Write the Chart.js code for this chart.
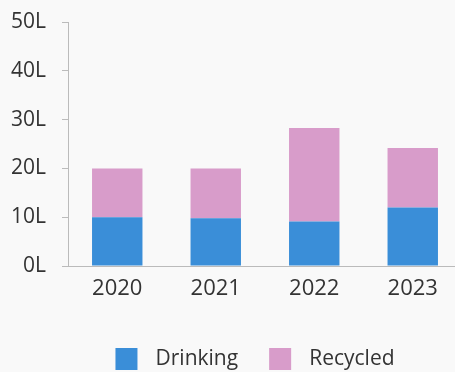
<!DOCTYPE html>
<html>
<head>
<meta charset="utf-8">
<script src="https://cdn.jsdelivr.net/npm/chart.js@4.4.1/dist/chart.umd.min.js"></script>
<style>
  html, body { margin: 0; padding: 0; background: #f9f9f9; overflow: hidden; }
  #wrap { width: 464px; height: 380px; }
</style>
</head>
<body>
<div id="wrap"><canvas id="chart"></canvas></div>
<script>
// data (litres)
const years = ["2020", "2021", "2022", "2023"];
const drinking = [10, 9.8, 9.1, 12];
const recycled = [10, 10.2, 19.2, 12.2];
const yTicks = [0, 10, 20, 30, 40, 50];

const fontFamily = "'Open Sans', sans-serif";

// nudge the legend a bit to the left, like the original
const legendShift = {
  id: "legendShift",
  afterLayout(chart) {
    chart.legend.left -= 10;
    chart.legend.right -= 10;
  },
};

const ctx = document.getElementById("chart").getContext("2d");
new Chart(ctx, {
  type: "bar",
  data: {
    labels: years,
    datasets: [
      {
        label: " \u200ADrinking",
        data: drinking,
        backgroundColor: "#3a8ed8",
        barPercentage: 0.64,
        categoryPercentage: 0.8,
      },
      {
        label: " \u200ARecycled",
        data: recycled,
        backgroundColor: "#d89cca",
        barPercentage: 0.64,
        categoryPercentage: 0.8,
      },
    ],
  },
  options: {
    responsive: true,
    maintainAspectRatio: false,
    animation: false,
    layout: { padding: { top: 0, right: 2, left: 0, bottom: 0 } },
    plugins: {
      legend: {
        position: "bottom",
        fullSize: false,
        title: {
          display: true,
          text: " ",
          font: { size: 1 },
          padding: { top: 0, bottom: 11.4 },
        },
        labels: {
          boxWidth: 22,
          boxHeight: 22,
          padding: 31,
          color: "#333",
          font: { family: fontFamily, size: 21 },
        },
      },
      tooltip: { enabled: false },
    },
    scales: {
      x: {
        stacked: true,
        grid: { display: false },
        border: { display: true, color: "#bbb" },
        ticks: {
          color: "#333",
          padding: 2,
          font: { family: fontFamily, size: 22 },
        },
      },
      y: {
        stacked: true,
        min: 0,
        max: 50,
        afterBuildTicks: (scale) => {
          scale.ticks = yTicks.map((v) => ({ value: v }));
        },
        afterFit: (scale) => {
          scale.width = 68;
          scale.paddingTop = 22;
        },
        grid: {
          drawOnChartArea: false,
          drawTicks: true,
          tickLength: 6,
          color: "#bbb",
        },
        border: { display: true, color: "#bbb" },
        ticks: {
          color: "#333",
          padding: 16,
          callback: (v) => v + "L",
          font: { family: fontFamily, size: 21 },
        },
      },
    },
  },
  plugins: [legendShift],
});
</script>
</body>
</html>
